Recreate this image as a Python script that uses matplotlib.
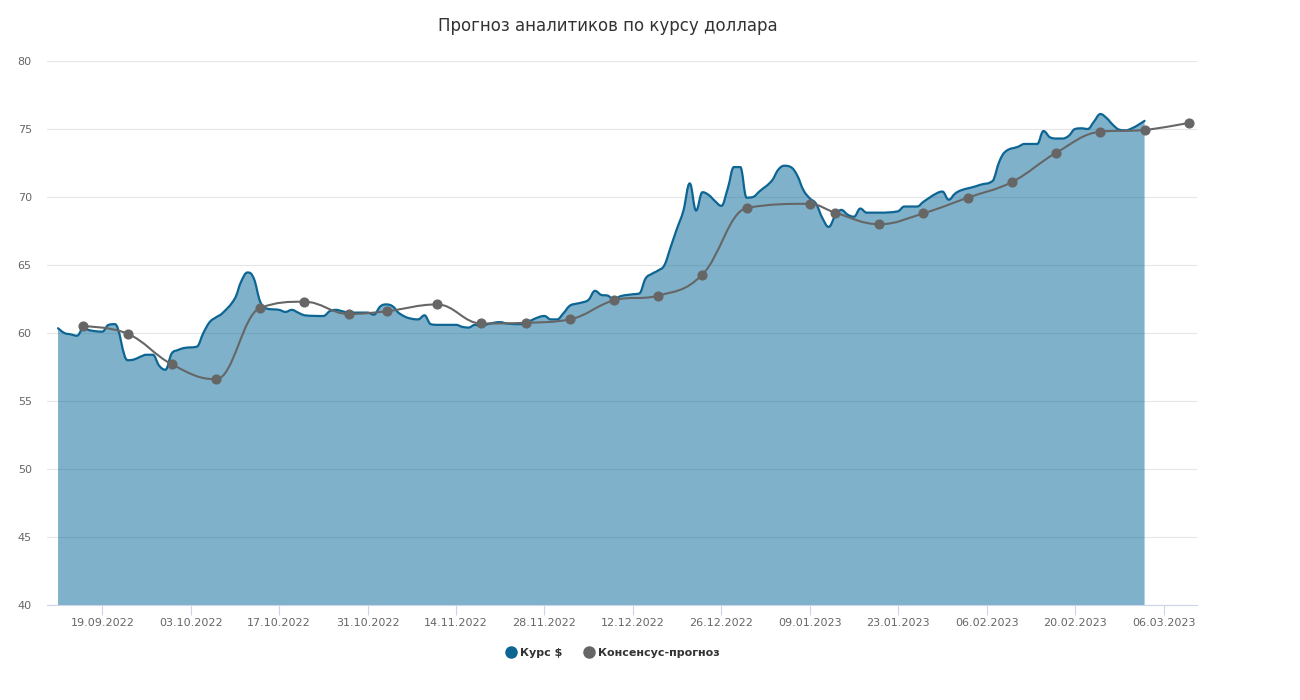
import matplotlib
matplotlib.use('Agg')
import matplotlib.pyplot as plt
import matplotlib.dates as mdates
from matplotlib.path import Path
from matplotlib.patches import PathPatch
from matplotlib.lines import Line2D
import numpy as np
import pandas as pd

# курс доллара (ЦБ), по дням
rate_dates = [
    '2022-09-12', '2022-09-13', '2022-09-14', '2022-09-15', '2022-09-16', '2022-09-17', '2022-09-19',
    '2022-09-20', '2022-09-21', '2022-09-23', '2022-09-24', '2022-09-25', '2022-09-26', '2022-09-27',
    '2022-09-28', '2022-09-29', '2022-09-30',
    '2022-10-01', '2022-10-02', '2022-10-04', '2022-10-05', '2022-10-06', '2022-10-07', '2022-10-08',
    '2022-10-10', '2022-10-11', '2022-10-12', '2022-10-13', '2022-10-14', '2022-10-15', '2022-10-17',
    '2022-10-18', '2022-10-19', '2022-10-20', '2022-10-21', '2022-10-24', '2022-10-25', '2022-10-26',
    '2022-10-27', '2022-10-28', '2022-10-31',
    '2022-11-01', '2022-11-02', '2022-11-03', '2022-11-04', '2022-11-05', '2022-11-07', '2022-11-08',
    '2022-11-09', '2022-11-10', '2022-11-11', '2022-11-14', '2022-11-15', '2022-11-16', '2022-11-17',
    '2022-11-18', '2022-11-19', '2022-11-21', '2022-11-22', '2022-11-24', '2022-11-25', '2022-11-27',
    '2022-11-28', '2022-11-29', '2022-11-30',
    '2022-12-01', '2022-12-02', '2022-12-03', '2022-12-04', '2022-12-05', '2022-12-06', '2022-12-07',
    '2022-12-08', '2022-12-09', '2022-12-10', '2022-12-12', '2022-12-13', '2022-12-14', '2022-12-15',
    '2022-12-16', '2022-12-17', '2022-12-18', '2022-12-19', '2022-12-20', '2022-12-21', '2022-12-22',
    '2022-12-23', '2022-12-24', '2022-12-25', '2022-12-26', '2022-12-27', '2022-12-28', '2022-12-29',
    '2022-12-30', '2022-12-31',
    '2023-01-01', '2023-01-03', '2023-01-04', '2023-01-05', '2023-01-06', '2023-01-07', '2023-01-08',
    '2023-01-09', '2023-01-10', '2023-01-11', '2023-01-12', '2023-01-13', '2023-01-14', '2023-01-15',
    '2023-01-16', '2023-01-17', '2023-01-18', '2023-01-20', '2023-01-23', '2023-01-24', '2023-01-26',
    '2023-01-27', '2023-01-29', '2023-01-30', '2023-01-31',
    '2023-02-01', '2023-02-02', '2023-02-04', '2023-02-05', '2023-02-07', '2023-02-08', '2023-02-09',
    '2023-02-11', '2023-02-12', '2023-02-14', '2023-02-15', '2023-02-16', '2023-02-17', '2023-02-18',
    '2023-02-19', '2023-02-20', '2023-02-21', '2023-02-22', '2023-02-23', '2023-02-24', '2023-02-25',
    '2023-02-26', '2023-02-27', '2023-02-28',
    '2023-03-01', '2023-03-02', '2023-03-03',
]
rate_values = [
    60.35, 60.0, 59.9, 59.8, 60.35, 60.2, 60.1,
    60.6, 60.65, 58.0, 58.05, 58.25, 58.4, 58.4,
    57.6, 57.3, 58.5,
    58.75, 58.9, 59.0, 60.0, 60.8, 61.15, 61.45,
    62.55, 63.8, 64.45, 64.0, 62.3, 61.8, 61.7,
    61.55, 61.7, 61.5, 61.3, 61.25, 61.6, 61.7,
    61.6, 61.5, 61.5,
    61.35, 61.95, 62.1, 61.95, 61.45, 61.05, 61.0,
    61.3, 60.65, 60.6, 60.6, 60.45, 60.4, 60.6,
    60.5, 60.65, 60.8, 60.7, 60.65, 60.75, 61.15,
    61.25, 61.0, 61.0,
    61.45, 62.0, 62.15, 62.25, 62.45, 63.1, 62.8,
    62.75, 62.45, 62.7, 62.85, 62.9, 64.0, 64.35,
    64.6, 65.0, 66.35, 67.7, 69.0, 71.0, 69.0,
    70.35, 70.15, 69.7, 69.35, 70.6, 72.2, 72.2,
    69.95, 70.0,
    70.4, 71.2, 72.0, 72.3, 72.2, 71.6, 70.5,
    69.9, 69.5, 68.45, 67.8, 68.6, 69.05, 68.7,
    68.55, 69.15, 68.85, 68.85, 68.95, 69.3, 69.3,
    69.65, 70.25, 70.4, 69.8,
    70.25, 70.5, 70.75, 70.9, 71.2, 72.6, 73.35,
    73.7, 73.9, 73.9, 74.85, 74.4, 74.3, 74.3,
    74.5, 75.0, 75.05, 75.0, 75.55, 76.1, 75.8,
    75.3, 74.95, 74.9,
    75.05, 75.3, 75.6,
]

# консенсус-прогноз аналитиков
forecast_dates = [
    '2022-09-16', '2022-09-23', '2022-09-30', '2022-10-07', '2022-10-14', '2022-10-21', '2022-10-28',
    '2022-11-03', '2022-11-11', '2022-11-18', '2022-11-25', '2022-12-02', '2022-12-09', '2022-12-16',
    '2022-12-23', '2022-12-30', '2023-01-09', '2023-01-13', '2023-01-20', '2023-01-27', '2023-02-03',
    '2023-02-10', '2023-02-17', '2023-02-24', '2023-03-03', '2023-03-10',
]
forecast_values = [
    60.5, 59.95, 57.7, 56.6, 61.85, 62.3, 61.4,
    61.6, 62.1, 60.7, 60.75, 61.0, 62.4, 62.75,
    64.3, 69.2, 69.5, 68.85, 68.0, 68.8, 69.95,
    71.1, 73.25, 74.8, 74.93, 75.45,
]

tick_start = '2022-09-19'
tick_end = '2023-03-06'

title = 'Прогноз аналитиков по курсу доллара'
names = ['Курс $', 'Консенсус-прогноз']

BLUE = '#0d6593'
FILL = '#006597'
GRAY = '#666666'


def spline_path(xs, ys, smoothing=1.5):
    # сглаживание как у areaspline: кубические безье между соседними точками
    n = len(xs)
    left = [(xs[i], ys[i]) for i in range(n)]
    right = [(xs[i], ys[i]) for i in range(n)]
    denom = smoothing + 1
    for i in range(1, n - 1):
        x, y = xs[i], ys[i]
        lx, ly = xs[i - 1], ys[i - 1]
        nx, ny = xs[i + 1], ys[i + 1]
        lcx = (smoothing * x + lx) / denom
        lcy = (smoothing * y + ly) / denom
        rcx = (smoothing * x + nx) / denom
        rcy = (smoothing * y + ny) / denom
        corr = (rcy - lcy) * (rcx - x) / (rcx - lcx) + y - rcy
        lcy += corr
        rcy += corr
        if lcy > ly and lcy > y:
            lcy = max(ly, y)
            rcy = 2 * y - lcy
        elif lcy < ly and lcy < y:
            lcy = min(ly, y)
            rcy = 2 * y - lcy
        if rcy > ny and rcy > y:
            rcy = max(ny, y)
            lcy = 2 * y - rcy
        elif rcy < ny and rcy < y:
            rcy = min(ny, y)
            lcy = 2 * y - rcy
        left[i] = (lcx, lcy)
        right[i] = (rcx, rcy)
    verts = [(xs[0], ys[0])]
    codes = [Path.MOVETO]
    for i in range(1, n):
        verts += [right[i - 1], left[i], (xs[i], ys[i])]
        codes += [Path.CURVE4] * 3
    return verts, codes


rx = mdates.date2num(pd.to_datetime(rate_dates))
fx = mdates.date2num(pd.to_datetime(forecast_dates))

fig = plt.figure(figsize=(13, 7), dpi=100)
ax = fig.add_axes([47 / 1300, 1 - 605 / 700, 1150 / 1300, 544 / 700])

# курс: заливка + линия
verts, codes = spline_path(list(rx), rate_values)
fill_verts = verts + [(rx[-1], 40), (rx[0], 40), (rx[0], 40)]
fill_codes = codes + [Path.LINETO, Path.LINETO, Path.CLOSEPOLY]
ax.add_patch(PathPatch(Path(fill_verts, fill_codes), facecolor=FILL, alpha=0.5,
                       edgecolor='none', zorder=2))
ax.add_patch(PathPatch(Path(verts, codes), facecolor='none', edgecolor=BLUE,
                       linewidth=1.6, zorder=3, capstyle='round', joinstyle='round'))

# прогноз
verts2, codes2 = spline_path(list(fx), forecast_values)
ax.add_patch(PathPatch(Path(verts2, codes2), facecolor='none', edgecolor=GRAY,
                       linewidth=1.5, zorder=4))
ax.plot(fx, forecast_values, 'o', color=GRAY, markersize=6.3, zorder=5)

ax.set_xlim(mdates.date2num(pd.Timestamp('2022-09-12')) - 1.75,
            mdates.date2num(pd.Timestamp('2022-09-12')) + 180.3)
ax.set_ylim(40, 80)
ax.set_yticks(np.arange(40, 81, 5))

ticks = pd.date_range(tick_start, tick_end, freq='14D')
ax.set_xticks(mdates.date2num(ticks))
ax.xaxis.set_major_formatter(mdates.DateFormatter('%d.%m.%Y'))

ax.grid(axis='y', color='#e6e6e6', linewidth=0.8, zorder=1)
ax.set_axisbelow(True)
for s in ['top', 'right', 'left']:
    ax.spines[s].set_visible(False)
ax.spines['bottom'].set_color('#ccd6eb')
ax.spines['bottom'].set_zorder(6)
ax.tick_params(axis='x', length=7.5, color='#ccd6eb', labelsize=8, labelcolor='#666666', pad=2)
ax.tick_params(axis='y', length=0, labelsize=8, labelcolor='#666666', pad=11)

fig.text(608 / 1300, 1 - 26 / 700, title, ha='center', va='center', fontsize=12, color='#333333')

handles = [Line2D([], [], marker='o', linestyle='none', color=BLUE, markersize=8),
           Line2D([], [], marker='o', linestyle='none', color=GRAY, markersize=8)]
fig.legend(handles, names, loc='center', bbox_to_anchor=(612 / 1300, 1 - 653 / 700), ncol=2,
           frameon=False, prop={'weight': 'bold', 'size': 8}, labelcolor='#333333',
           handletextpad=0.2, columnspacing=1.8, handlelength=1.2)

fig.savefig('out.png', dpi=100)
